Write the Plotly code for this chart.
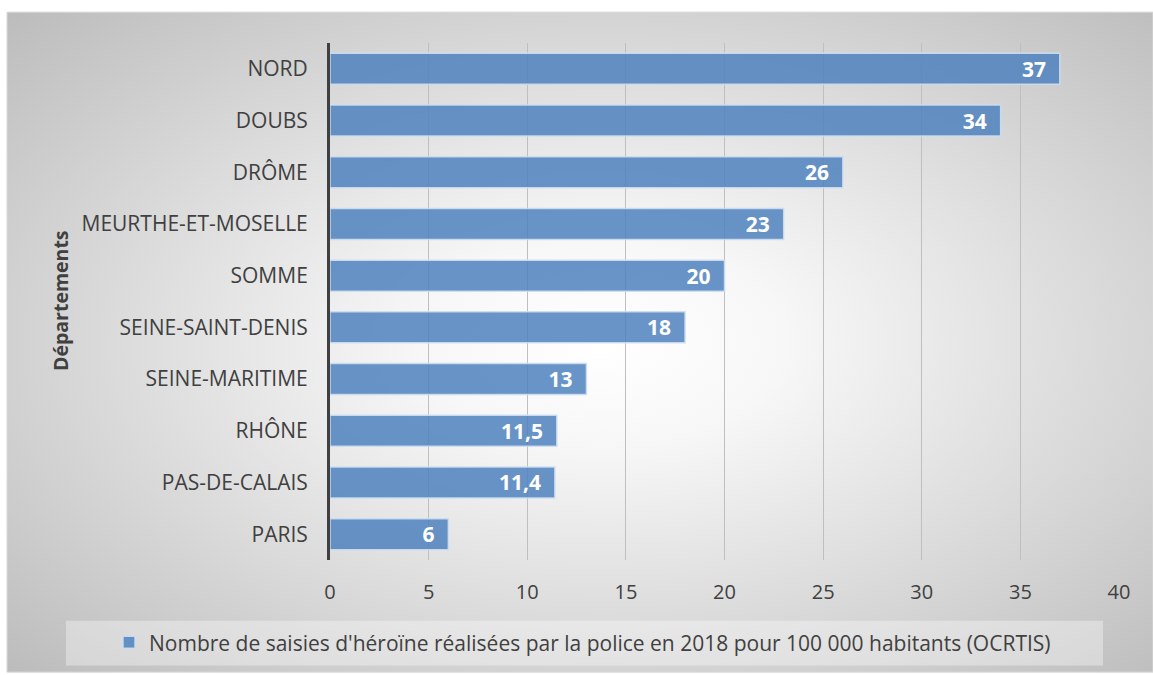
import plotly.graph_objects as go
import urllib.parse

departements = ["NORD", "DOUBS", "DRÔME", "MEURTHE-ET-MOSELLE", "SOMME",
                "SEINE-SAINT-DENIS", "SEINE-MARITIME", "RHÔNE", "PAS-DE-CALAIS", "PARIS"]
saisies = [37, 34, 26, 23, 20, 18, 13, 11.5, 11.4, 6]
labels = ["37", "34", "26", "23", "20", "18", "13", "11,5", "11,4", "6"]
serie_nom = "Nombre de saisies d'héroïne réalisées par la police en 2018 pour 100 000 habitants (OCRTIS)"
x_ticks = [0, 5, 10, 15, 20, 25, 30, 35, 40]

W, H = 1153, 675
L, R, T, B = 330, 34, 43, 113
pw, ph = W - L - R, H - T - B

def px(x):
    return (x - L) / pw

def py(y):
    return (H - B - y) / ph

FONT = "Open Sans"

svg = ('<svg xmlns="http://www.w3.org/2000/svg" width="1146" height="663" preserveAspectRatio="none">'
       '<defs><radialGradient id="g" cx="52%" cy="50%" r="72%">'
       '<stop offset="0" stop-color="#ffffff"/><stop offset="0.22" stop-color="#f7f7f7"/>'
       '<stop offset="1" stop-color="#bcbcbc"/></radialGradient></defs>'
       '<rect width="1146" height="663" fill="url(#g)"/></svg>')
src = "data:image/svg+xml;charset=utf-8," + urllib.parse.quote(svg)

fig = go.Figure()
fig.add_trace(go.Bar(
    y=departements, x=saisies, orientation="h", name=serie_nom,
    text=[t + "\u00a0\u00a0" for t in labels], textposition="inside", insidetextanchor="end",
    textangle=0, constraintext="none",
    textfont=dict(family=FONT, size=21, color="white", weight="bold"),
    marker=dict(color="rgba(79,129,189,0.85)", line=dict(color="rgba(205,222,242,0.9)", width=1.5)),
    width=0.6, cliponaxis=False,
))

fig.update_layout(
    width=W, height=H,
    margin=dict(l=L, r=R, t=T, b=B, pad=0),
    paper_bgcolor="white", plot_bgcolor="rgba(0,0,0,0)",
    font=dict(family=FONT, color="#404040", size=20),
    showlegend=True,
    legend=dict(x=px(109), y=py(645), xanchor="left", yanchor="middle",
                orientation="h", bgcolor="rgba(0,0,0,0)",
                font=dict(family=FONT, size=21, color="#404040"),
                itemwidth=30),
    images=[dict(source=src, xref="paper", yref="paper", x=px(7), y=py(12),
                 sizex=(W - 7) / pw, sizey=(H - 12) / ph, sizing="stretch",
                 xanchor="left", yanchor="top", layer="below")],
    shapes=[
        dict(type="rect", xref="paper", yref="paper", x0=px(7), x1=px(1153), y0=py(674.5), y1=py(12),
             line=dict(color="#d9d9d9", width=1), fillcolor="rgba(0,0,0,0)", layer="below"),
        dict(type="rect", xref="paper", yref="paper", x0=px(66), x1=px(1103), y0=py(668), y1=py(623),
             line=dict(width=0), fillcolor="rgba(255,255,255,0.35)", layer="below"),
    ],
    annotations=[dict(text="<b>Départements</b>", textangle=-90, xref="paper", yref="paper",
                      x=px(60), y=py(302), showarrow=False, xanchor="center", yanchor="middle",
                      font=dict(family=FONT, size=19.5, color="#404040"))],
)

fig.update_xaxes(range=[0, 40], tickvals=x_ticks, showgrid=True, gridcolor="#bfbfbf", gridwidth=1,
                 zeroline=False, showline=False, ticks="", ticklabelstandoff=18,
                 tickfont=dict(family=FONT, size=20, color="#404040"))
fig.update_yaxes(categoryorder="array", categoryarray=departements[::-1], showgrid=False,
                 showline=True, linecolor="#404040", linewidth=3, ticks="",
                 ticklabelstandoff=15, zeroline=False,
                 tickfont=dict(family=FONT, size=21, color="#404040"))

fig.write_html("out.html")
